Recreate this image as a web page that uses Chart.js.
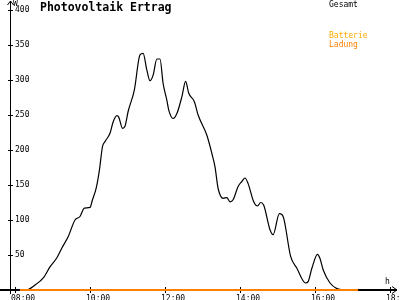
<!DOCTYPE html>
<html>
<head>
<meta charset="utf-8">
<script src="https://cdn.jsdelivr.net/npm/chart.js@4"></script>
<style>
  body { margin: 0; background: #fff; }
</style>
</head>
<body>
<canvas id="graph" width="400" height="300"></canvas>
<script>
// values (time of day, watts)
const times = ['08:19','08:22','08:29','08:46','08:56','09:07','09:15','09:25','09:36','09:44',
  '09:51','10:00','10:04','10:10','10:15','10:20','10:24','10:32','10:37','10:43',
  '10:46','10:52','10:56','11:01','11:11','11:20','11:25','11:31','11:36','11:41',
  '11:47','11:52','11:57','12:03','12:06','12:13','12:19','12:27','12:33','12:38',
  '12:47','12:53','13:07','13:15','13:20','13:25','13:33','13:39','13:44','13:49',
  '13:57','14:03','14:08','14:13','14:22','14:28','14:33','14:38','14:48','14:53',
  '15:03','15:09','15:21','15:31','15:45','15:49','15:55','16:04','16:08','16:13',
  '16:24','16:35','16:45'];
const gesamt = [0,1,5,18,33,46,60,76,100,105,
  117,118,129,146,171,205,212,224,240,249,
  247,231,234,255,286,336,338,314,299,307,
  330,330,295,271,257,245,252,276,298,281,
  269,250,221,195,176,145,131,132,126,129,
  148,155,160,152,126,120,125,121,86,79,
  109,105,48,31,10,12,31,51,45,29,
  10,2,0];
const ladungTimes = ['08:08','17:09'];
const ladung = [0,0];
const batterie = [];

const seriesNames = ['Gesamt','Batterie','Ladung'];
const seriesColors = ['#000000','#ffaa00','#ff8000'];
const hourTicks = [8,10,12,14,16,18];
const wattTicks = [50,100,150,200,250,300,350,400];

const toHours = t => { const [h, m] = t.split(':').map(Number); return h + m / 60; };
const pad = n => String(n).padStart(2, '0');
const mono = "'DejaVu Sans Mono', monospace";

// axes with arrows, tick crosses, title and legend texts
const decor = {
  id: 'decor',
  beforeDatasetsDraw(chart) {
    const {ctx, chartArea, scales: {x, y}} = chart;
    const ax = chartArea.left - 0.5;
    const ay = y.getPixelForValue(0);
    ctx.save();
    ctx.strokeStyle = '#000';
    ctx.lineWidth = 2;
    ctx.beginPath();
    ctx.moveTo(0, ay); ctx.lineTo(397, ay);
    ctx.stroke();
    ctx.lineWidth = 1;
    ctx.beginPath();
    ctx.moveTo(392, ay - 3.5); ctx.lineTo(397, ay); ctx.lineTo(392, ay + 3.5);
    ctx.moveTo(ax, 294); ctx.lineTo(ax, 1);
    ctx.moveTo(ax - 3, 5); ctx.lineTo(ax, 1); ctx.lineTo(ax + 3, 5);
    wattTicks.forEach(v => {
      const py = Math.round(y.getPixelForValue(v)) + 0.5;
      ctx.moveTo(ax - 2.5, py); ctx.lineTo(ax + 2.5, py);
    });
    hourTicks.forEach(v => {
      const px = Math.round(x.getPixelForValue(v)) + 0.5;
      ctx.moveTo(px, ay - 3); ctx.lineTo(px, ay + 3);
    });
    ctx.stroke();

    ctx.fillStyle = '#000';
    ctx.textBaseline = 'alphabetic';
    ctx.font = 'bold 11.5px ' + mono;
    ctx.fillText('Photovoltaik Ertrag', 40, 11);
    ctx.font = '8px ' + mono;
    ctx.fillText('W', 13, 6);
    ctx.fillText('h', 385, 284);
    const legendY = [7, 38, 46.5];
    seriesNames.forEach((name, i) => {
      ctx.fillStyle = seriesColors[i];
      ctx.fillText(name, 329, legendY[i]);
    });
    ctx.restore();
  }
};

const ctx = document.getElementById('graph').getContext('2d');
new Chart(ctx, {
  type: 'line',
  data: {
    datasets: [
      {
        label: seriesNames[2],
        data: ladungTimes.map((t, i) => ({x: toHours(t), y: ladung[i]})),
        borderColor: seriesColors[2],
        borderWidth: 2,
        pointRadius: 0,
        clip: false
      },
      {
        label: seriesNames[1],
        data: batterie,
        borderColor: seriesColors[1],
        borderWidth: 1,
        pointRadius: 0
      },
      {
        label: seriesNames[0],
        data: times.map((t, i) => ({x: toHours(t), y: gesamt[i]})),
        borderColor: seriesColors[0],
        borderWidth: 1.2,
        pointRadius: 0,
        cubicInterpolationMode: 'monotone',
        clip: false
      }
    ]
  },
  options: {
    responsive: false,
    animation: false,
    layout: { padding: { top: 10, right: 10, left: 0, bottom: 0 } },
    plugins: { legend: { display: false }, tooltip: { enabled: false } },
    scales: {
      x: {
        type: 'linear',
        min: 8 - 4 / 37.5,
        max: 18,
        grid: { display: false },
        border: { display: false },
        ticks: {
          color: '#000',
          font: { family: mono, size: 8 },
          align: 'start',
          labelOffset: -4,
          padding: -4,
          maxRotation: 0,
          autoSkip: false,
          callback: v => pad(v) + ':00'
        },
        afterBuildTicks: s => { s.ticks = hourTicks.map(v => ({value: v})); },
        afterFit: s => { s.height = 10; s.paddingLeft = 0; s.paddingRight = 0; }
      },
      y: {
        min: 0,
        max: 400,
        grid: { display: false },
        border: { display: false },
        ticks: {
          color: '#000',
          font: { family: mono, size: 8 },
          mirror: true,
          padding: 4
        },
        afterBuildTicks: s => { s.ticks = wattTicks.map(v => ({value: v})); },
        afterFit: s => { s.width = 11; s.paddingTop = 0; s.paddingBottom = 0; }
      }
    }
  },
  plugins: [decor]
});
</script>
</body>
</html>
